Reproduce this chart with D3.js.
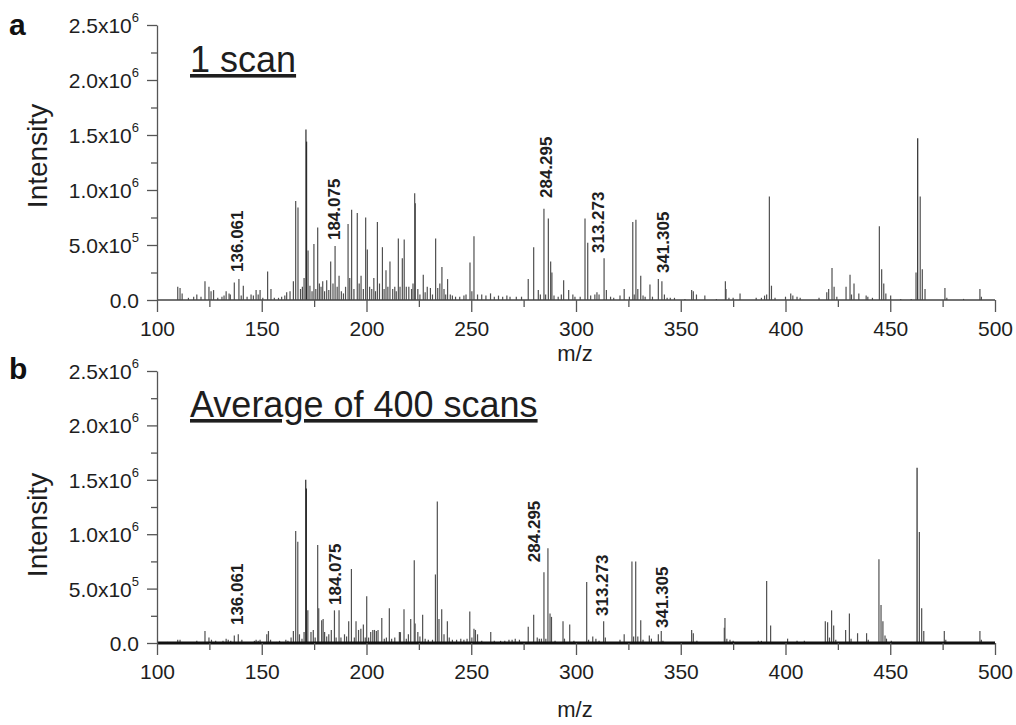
<!DOCTYPE html>
<html><head><meta charset="utf-8">
<script src="https://cdn.jsdelivr.net/npm/d3@7"></script>
<style>body{margin:0;background:#fff}svg{display:block}</style>
</head><body><svg id="chart" width="1016" height="725"></svg>
<script>
// ---- Data (intensities in units of 1e6) ----
const topMz = [109.9,111,112,115,117.5,119,121,122.9,124.8,125.8,127,129,131,132,133,134.4,135,136.9,139.1,140.2,141.2,143,144.9,146,147.3,148.3,149.2,150.5,152.8,154.4,156,158,159.5,161,161.9,163.5,165.1,166.2,167.3,168.5,169.4,170.2,171.1,171.4,172.1,173,174,174.9,175.8,176.7,177.5,178.3,179.1,180,181,182,182.9,184,185,186,186.9,188,189,190,191.2,192,192.9,194,195.6,196.5,197.4,198.5,199.6,200.4,201.5,202.5,203.5,204.3,205.2,206.2,207.6,208.4,209.3,210.2,211.2,212.5,213.5,214.2,215.2,216,217.1,218,219,220.2,221.5,222.2,223,223.3,224.5,225.5,227.1,228,229,230.5,231.5,233,234,235,236,237,237.8,238.7,240,241,242.5,244.5,246.5,247.5,249.4,250.3,251.3,253,255,257,259.2,261,263,265,267,268.5,271.5,274,277.2,279.8,282,283,284.7,285.5,286.8,287.9,288.5,289.5,291.5,293,294.1,296.5,298.5,299.5,302,304.3,305.6,307,309,310,311,313.4,314.5,316.5,318,321,323,325.5,327.1,327.8,328.6,329.5,330.9,332,333,335.3,336.5,339.3,341,342.2,343.5,345,347,352,355.2,356,357.5,361.5,367,371.3,371.6,373,375,378.3,386,388.5,390,391,392.3,393.3,395,400,402.5,403.5,405.5,407,416,419.7,420.6,422.2,423.2,424.5,428.9,430.8,431.5,432.7,435,438.5,439.3,441.5,444.8,445.9,446.9,447.9,450.2,455,460,462.3,463.1,464.3,465.3,466.6,476.1,477,485,492.8,493.5];
const topInt = [0.12,0.11,0.06,0.02,0.03,0.05,0.03,0.17,0.12,0.08,0.09,0.02,0.03,0.04,0.08,0.06,0.05,0.16,0.19,0.04,0.13,0.03,0.05,0.04,0.09,0.05,0.09,0.02,0.26,0.10,0.02,0.02,0.03,0.04,0.07,0.08,0.17,0.90,0.84,0.10,0.12,0.20,1.55,1.44,0.45,0.13,0.08,0.51,0.10,0.66,0.15,0.12,0.17,0.08,0.18,0.09,0.35,0.15,0.49,0.12,0.22,0.08,0.06,0.12,0.69,0.20,0.82,0.10,0.79,0.15,0.22,0.10,0.75,0.46,0.12,0.10,0.20,0.08,0.71,0.15,0.48,0.10,0.27,0.12,0.35,0.10,0.12,0.08,0.56,0.12,0.38,0.55,0.12,0.12,0.10,0.15,0.97,0.88,0.10,0.05,0.23,0.07,0.12,0.11,0.05,0.56,0.11,0.15,0.30,0.10,0.05,0.19,0.05,0.04,0.03,0.03,0.04,0.05,0.34,0.08,0.58,0.05,0.05,0.04,0.06,0.03,0.04,0.03,0.04,0.03,0.03,0.03,0.19,0.48,0.09,0.05,0.83,0.05,0.74,0.35,0.25,0.04,0.03,0.05,0.18,0.09,0.05,0.03,0.03,0.74,0.52,0.04,0.05,0.07,0.05,0.38,0.09,0.03,0.02,0.04,0.10,0.03,0.71,0.05,0.73,0.10,0.22,0.04,0.03,0.14,0.03,0.19,0.17,0.05,0.02,0.02,0.02,0.01,0.09,0.08,0.05,0.04,0.01,0.17,0.10,0.02,0.02,0.06,0.02,0.02,0.04,0.05,0.94,0.13,0.02,0.03,0.06,0.04,0.03,0.02,0.02,0.07,0.10,0.29,0.12,0.03,0.12,0.23,0.05,0.15,0.06,0.04,0.03,0.02,0.67,0.28,0.15,0.06,0.04,0.01,0.01,0.25,1.47,0.94,0.28,0.10,0.11,0.02,0.01,0.10,0.03];

const botMz = [105,109.9,111,117,119,120,122.9,124.8,126,128,131.5,133,134,135.2,136.9,138.8,140.5,145,146.5,147.3,148.3,149.2,152.4,153.2,154.2,157,158.5,161.5,162.5,164,165.1,166.2,167.2,168,169.2,170.2,171,171.3,172,173.5,174.6,175.5,176.7,177.2,178.6,179.3,180,181,182,183.2,184.7,185.5,186.9,187.8,189.5,190.5,191.5,192.8,194.2,195,196.2,197.3,198.5,199.4,200.1,201,202,203,203.8,204.7,205.5,207.3,208.5,209.5,210.9,212,213.5,215.7,216.2,217.9,219,220,221.1,222.8,223.2,224.5,225.5,226.8,228,229.5,231.5,232.9,233.8,234.6,235.9,237,238.6,239.5,241,243,245,246.5,248,249.3,250.3,251.3,252,253,255,257,259.3,261,264,266,268,269.5,271,273,277.2,279.8,281.5,282.5,283.5,284.7,285.6,286.6,287.6,288.3,290,293.8,294.5,297,299,305.1,306,308,309.5,311,313.2,314,318,321,323,326.7,327.5,328.5,329.5,330.9,332,335,336,339.3,340.7,341.5,344,355.2,356,357.7,362,368,370.8,371.1,372,373.5,375,381,387,388.5,391,392.9,401,405.5,409,419,420.1,421,422,423,424,428.7,430.5,431.3,434.4,438.7,439.5,444.6,445.6,446.5,447.5,448.2,450.5,462.8,463.9,465,466,475.8,476.5,492.8,493.5];
const botInt = [0.01,0.03,0.03,0.01,0.02,0.01,0.11,0.05,0.03,0.02,0.02,0.04,0.03,0.02,0.07,0.08,0.03,0.01,0.02,0.03,0.02,0.03,0.08,0.11,0.03,0.01,0.02,0.03,0.02,0.05,0.11,1.03,0.93,0.08,0.04,0.10,1.50,1.42,0.30,0.10,0.12,0.05,0.90,0.32,0.21,0.22,0.10,0.06,0.08,0.12,0.30,0.05,0.30,0.05,0.08,0.06,0.20,0.68,0.05,0.20,0.12,0.13,0.17,0.05,0.43,0.05,0.10,0.12,0.12,0.11,0.12,0.23,0.04,0.05,0.32,0.04,0.05,0.10,0.10,0.31,0.04,0.08,0.22,0.76,0.18,0.10,0.06,0.26,0.04,0.03,0.03,0.63,1.30,0.22,0.31,0.08,0.20,0.05,0.03,0.03,0.04,0.03,0.04,0.29,0.05,0.13,0.12,0.08,0.02,0.01,0.10,0.02,0.02,0.02,0.03,0.03,0.04,0.03,0.15,0.26,0.05,0.04,0.04,0.65,0.04,0.87,0.27,0.24,0.02,0.20,0.04,0.17,0.02,0.56,0.03,0.06,0.04,0.02,0.20,0.05,0.01,0.03,0.08,0.75,0.06,0.75,0.06,0.21,0.03,0.07,0.04,0.08,0.11,0.02,0.01,0.12,0.09,0.02,0.01,0.01,0.14,0.23,0.04,0.03,0.02,0.01,0.02,0.02,0.57,0.16,0.04,0.02,0.02,0.20,0.19,0.05,0.30,0.16,0.03,0.12,0.27,0.04,0.09,0.09,0.03,0.77,0.35,0.20,0.07,0.04,0.02,1.61,1.02,0.32,0.11,0.11,0.03,0.11,0.03];

const annotLabels = ["136.061","184.075","284.295","313.273","341.305"];
const topAnnotMz = [138.2,184.5,285.7,310.5,341.4];
const topAnnotInt = [0.255,0.545,0.927,0.427,0.245];
const botAnnotMz = [138.2,185.0,280.0,312.3,341.0];
const botAnnotInt = [0.165,0.349,0.743,0.248,0.138];

const xMajorTicks = [100,150,200,250,300,350,400,450,500];
const xMinorTicks = [125,175,225,275,325,375,425,475];
const yMajorTicks = [0,0.5e6,1.0e6,1.5e6,2.0e6,2.5e6];
const yMinorTicks = [0.25e6,0.75e6,1.25e6,1.75e6,2.25e6];
const yTickBase = ["0.0","5.0x10","1.0x10","1.5x10","2.0x10","2.5x10"];
const yTickExp = ["","5","6","6","6","6"];

const panelLetters = ["a","b"];
const panelTitles = ["1 scan","Average of 400 scans"];
const xTitle = "m/z";
const yTitle = "Intensity";

// ---- Drawing ----
const svg = d3.select("#chart");
const FONT = "'Liberation Sans', Arial, sans-serif";
const panels = [
  {mz: topMz, it: topInt, amz: topAnnotMz, ai: topAnnotInt, y0: 300, y1: 25, letterY: 35, titleY: 72, xlabY: 361, ylabY: 156, thick: false},
  {mz: botMz, it: botInt, amz: botAnnotMz, ai: botAnnotInt, y0: 643, y1: 371, letterY: 379, titleY: 417, xlabY: 717, ylabY: 525, thick: true}
];

panels.forEach((p, i) => {
  const g = svg.append("g");
  const x = d3.scaleLinear().domain([100, 500]).range([157, 995]);
  const y = d3.scaleLinear().domain([0, 2.5e6]).range([p.y0, p.y1]);

  // peaks
  g.append("g").selectAll("line")
    .data(d3.zip(p.mz, p.it))
    .join("line")
    .attr("x1", d => x(d[0])).attr("x2", d => x(d[0]))
    .attr("y1", y(0)).attr("y2", d => y(d[1] * 1e6))
    .attr("stroke", d => d[1] > 1.4 ? "#2a2a2a" : "#505050")
    .attr("stroke-width", 1.2);

  // baseline
  g.append("line")
    .attr("x1", x(100)).attr("x2", x(500))
    .attr("y1", y(0)).attr("y2", y(0))
    .attr("stroke", p.thick ? "#111" : "#444")
    .attr("stroke-width", p.thick ? 3 : 1.3);

  // y axis
  g.append("g").attr("transform", `translate(${x(100)},0)`)
    .call(d3.axisLeft(y).tickValues(yMajorTicks).tickSize(10).tickSizeOuter(0).tickFormat(""));
  g.append("g").attr("transform", `translate(${x(100)},0)`)
    .call(d3.axisLeft(y).tickValues(yMinorTicks).tickSize(6).tickSizeOuter(0).tickFormat(""))
    .select(".domain").remove();
  // y labels with superscripts
  yMajorTicks.forEach((v, k) => {
    const t = g.append("text")
      .attr("x", 139).attr("y", y(v) + 8)
      .attr("text-anchor", "end")
      .attr("font-family", FONT).attr("font-size", 21).attr("fill", "#1e1e1e");
    t.append("tspan").text(yTickBase[k]);
    if (yTickExp[k]) t.append("tspan").attr("font-size", 13).attr("dy", -11).text(yTickExp[k]);
  });

  // x axis
  const xAx = g.append("g").attr("transform", `translate(0,${y(0)})`)
    .call(d3.axisBottom(x).tickValues(xMajorTicks).tickSize(12).tickSizeOuter(0).tickPadding(9).tickFormat(d3.format("d")));
  xAx.selectAll("text").attr("font-family", FONT).attr("font-size", 21).attr("fill", "#1e1e1e");
  xAx.select(".domain").remove();
  g.append("g").attr("transform", `translate(0,${y(0)})`)
    .call(d3.axisBottom(x).tickValues(xMinorTicks).tickSize(7).tickFormat(""))
    .select(".domain").remove();

  g.selectAll(".tick line").attr("stroke", "#555").attr("stroke-width", 1.3);
  g.selectAll(".domain").attr("stroke", "#555").attr("stroke-width", 1.3);

  // axis titles
  g.append("text").attr("x", 575).attr("y", p.xlabY).attr("text-anchor", "middle")
    .attr("font-family", FONT).attr("font-size", 22).attr("fill", "#1e1e1e").text(xTitle);
  g.append("text").attr("transform", `translate(47,${p.ylabY}) rotate(-90)`).attr("text-anchor", "middle")
    .attr("font-family", FONT).attr("font-size", 28).attr("fill", "#1e1e1e").text(yTitle);

  // panel letter
  g.append("text").attr("x", 9).attr("y", p.letterY)
    .attr("font-family", FONT).attr("font-weight", "bold").attr("font-size", 30).attr("fill", "#111")
    .text(panelLetters[i]);

  // title with underline
  g.append("text").attr("x", 190).attr("y", p.titleY)
    .attr("font-family", FONT).attr("font-size", 36).attr("fill", "#1e1e1e")
    .attr("text-decoration", "underline").text(panelTitles[i]);

  // annotations
  g.append("g").selectAll("text")
    .data(d3.zip(annotLabels, p.amz, p.ai))
    .join("text")
    .attr("transform", d => `translate(${x(d[1])},${y(d[2] * 1e6)}) rotate(-90)`)
    .attr("dy", "0.36em")
    .attr("font-family", FONT).attr("font-weight", "bold").attr("font-size", 17).attr("fill", "#1e1e1e")
    .text(d => d[0]);
});
</script>
</body></html>
